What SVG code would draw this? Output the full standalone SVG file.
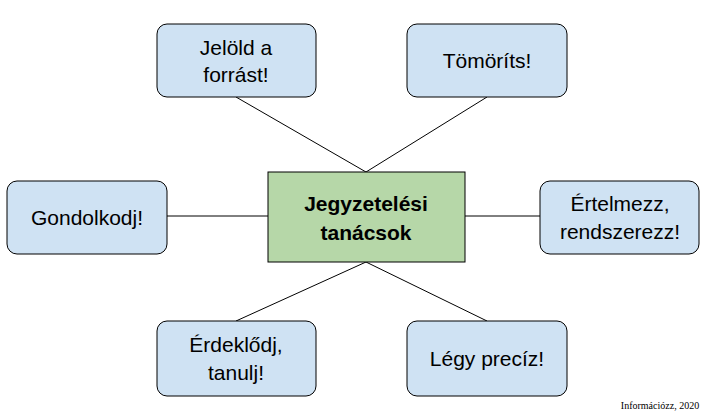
<svg xmlns="http://www.w3.org/2000/svg" width="720" height="419" viewBox="0 0 720 419">
<style>
.n{fill:#cfe2f3;stroke:#000;stroke-width:1}
.c{fill:#b6d7a8;stroke:#000;stroke-width:1}
text{font-family:"Liberation Sans",Arial,sans-serif;font-size:21px;text-anchor:middle;fill:#000}
.b{font-weight:bold}
#conn line{stroke:#000;stroke-width:1}
</style>
<rect width="720" height="419" fill="#fff"/>
<g id="conn">
<line x1="236" y1="97" x2="366" y2="172"/>
<line x1="487" y1="97" x2="366" y2="172"/>
<line x1="167" y1="216" x2="268" y2="216"/>
<line x1="465" y1="216" x2="540" y2="216"/>
<line x1="366" y1="262" x2="236" y2="321"/>
<line x1="366" y1="262" x2="487" y2="321"/>
</g>
<g id="center"><rect class="c" x="268" y="172" width="197" height="90"/><text class="b" x="366" y="211">Jegyzetelési</text><text class="b" x="366" y="240">tanácsok</text></g>
<g id="n1"><rect class="n" x="157" y="24" width="159" height="73" rx="10"/><text x="236" y="55">Jelöld a</text><text x="236" y="82">forrást!</text></g>
<g id="n2"><rect class="n" x="407" y="24" width="160" height="73" rx="10"/><text x="487" y="68">Tömöríts!</text></g>
<g id="n3"><rect class="n" x="7" y="181" width="160" height="73" rx="10"/><text x="87" y="225">Gondolkodj!</text></g>
<g id="n4"><rect class="n" x="540" y="181" width="159" height="73" rx="10"/><text x="620" y="211">Értelmezz,</text><text x="620" y="239">rendszerezz!</text></g>
<g id="n5"><rect class="n" x="157" y="321" width="159" height="75" rx="10"/><text x="236" y="352">Érdeklődj,</text><text x="236" y="380">tanulj!</text></g>
<g id="n6"><rect class="n" x="407" y="321" width="160" height="75" rx="10"/><text x="487" y="366">Légy precíz!</text></g>
<text x="660" y="409" style="font-family:'Liberation Serif',serif;font-size:10px">Információzz, 2020</text>
</svg>
